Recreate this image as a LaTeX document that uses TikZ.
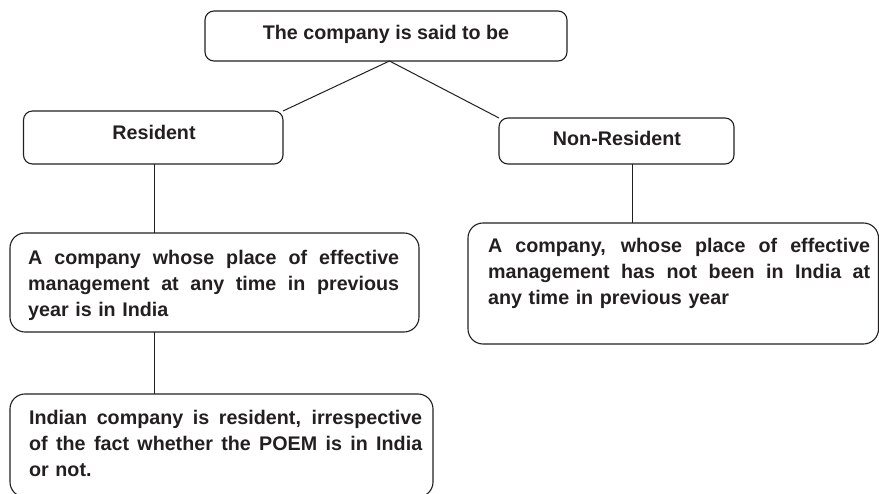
\documentclass[tikz,border=0pt]{standalone}
\usepackage{fontspec}
\setmainfont{Liberation Sans}
\definecolor{ink}{HTML}{231F20}
\newcommand\jline[2]{\makebox[#1][s]{\spaceskip=0.278em plus 1fil\relax #2}}
\begin{document}
\begin{tikzpicture}[x=1pt,y=-1pt,
  box/.style={draw=ink, line width=1.1pt, rounded corners=9pt, inner sep=0pt, outer sep=0pt},
  bigbox/.style={draw=ink, line width=1.1pt, rounded corners=15pt, inner sep=0pt, outer sep=0pt},
  lbl/.style={text=ink, font=\fontsize{19.7}{26}\selectfont\bfseries, inner sep=0pt},
  para/.style={lbl, align=left, anchor=north west},
  conn/.style={draw=ink, line width=1pt}]
\useasboundingbox (0,0) rectangle (879,494);
% boxes
\node[box, minimum width=362pt, minimum height=50pt] (top) at (386,36) {};
\node[box, minimum width=259.5pt, minimum height=53pt] (res) at (153.25,137.5) {};
\node[box, minimum width=235pt, minimum height=46pt] (nonres) at (616.5,141) {};
\node[bigbox, minimum width=409pt, minimum height=99pt] (boxa) at (214.5,282.5) {};
\node[bigbox, minimum width=410.5pt, minimum height=121pt] (boxnr) at (673.25,283.5) {};
\node[bigbox, minimum width=423pt, minimum height=103pt] (boxind) at (221.5,445.5) {};
% labels
\node[lbl, anchor=base] (toptxt) at (386,40) {The company is said to be};
\node[lbl, anchor=base] (restxt) at (154,140) {Resident};
\node[lbl, anchor=base] (nonrestxt) at (617,146) {Non-Resident};
\node[para, text width=371pt] (atxt) at (28,245.8)
  {\strut\jline{371pt}{A company whose place of effective}\\
   \strut\jline{371pt}{management at any time in previous}\\
   \strut year is in India};
\node[para, text width=382pt] (nrtxt) at (488,233.8)
  {\strut\jline{382pt}{A company, whose place of effective}\\
   \strut\jline{382pt}{management has not been in India at}\\
   \strut any time in previous year};
\node[para, text width=393pt] (indtxt) at (29,405.8)
  {\strut\jline{393pt}{Indian company is resident, irrespective}\\
   \strut\jline{393pt}{of the fact whether the POEM is in India}\\
   \strut or not.};
% connectors
\draw[conn] ([xshift=3.5pt]top.south) -- (res.north east);
\draw[conn] ([xshift=3.5pt]top.south) -- (nonres.north west);
\draw[conn] ([xshift=0.75pt]res.south) -- ([xshift=0.75pt]res.south |- boxa.north);
\draw[conn] ([xshift=0.75pt]res.south |- boxa.south) -- ([xshift=0.75pt]res.south |- boxind.north);
\draw[conn] ([xshift=15.5pt]nonres.south) -- ([xshift=15.5pt]nonres.south |- boxnr.north);
\end{tikzpicture}
\end{document}
